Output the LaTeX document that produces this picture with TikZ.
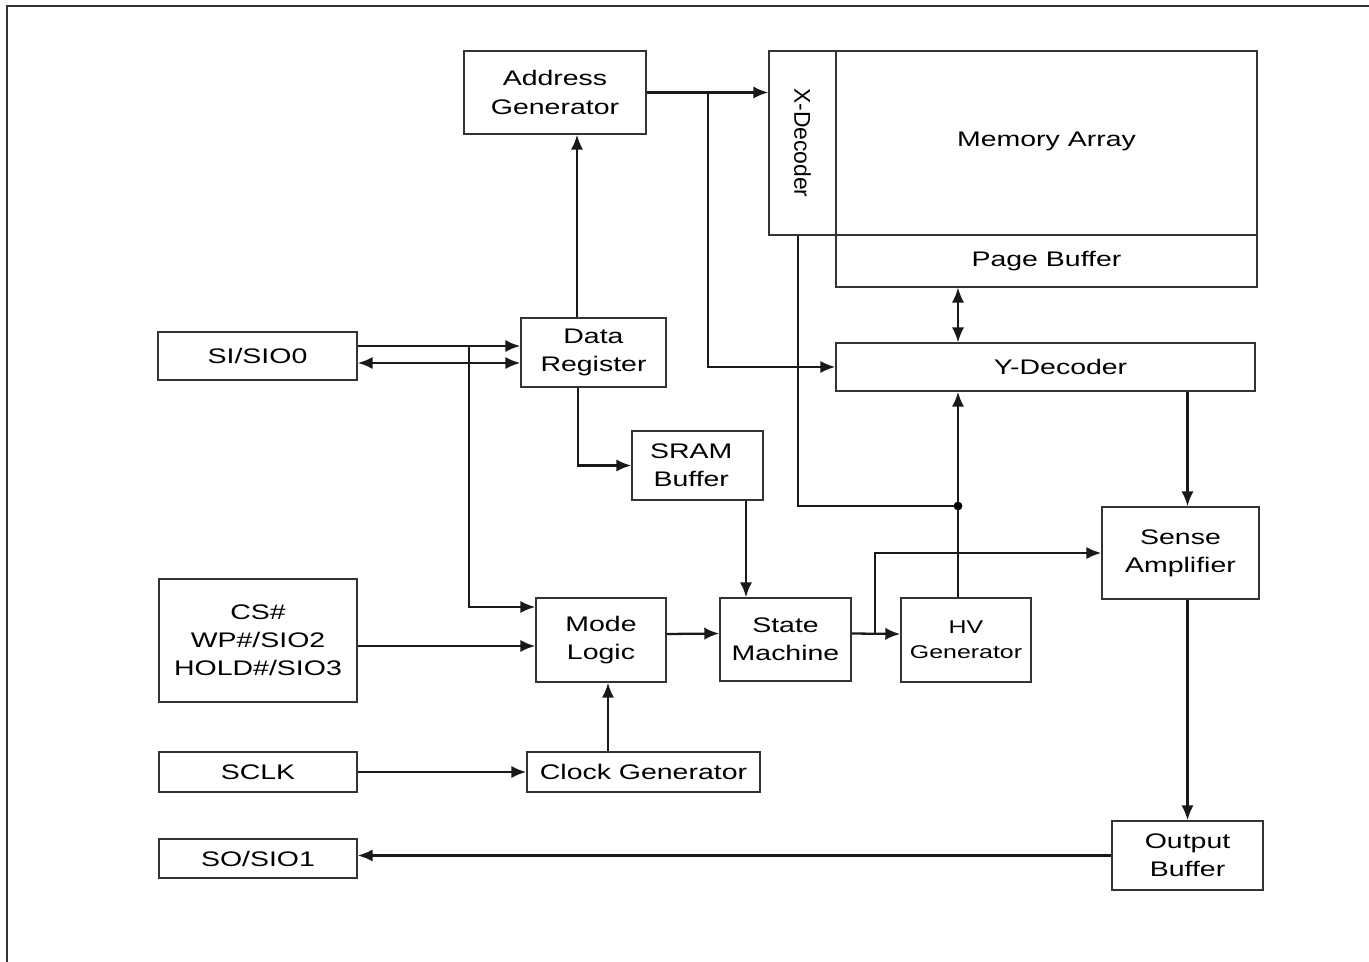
\documentclass[tikz,border=0pt]{standalone}
\usepackage{fontspec}
\setmainfont{Liberation Sans}[FakeStretch=1.35]
\newfontfamily\plainsans{Liberation Sans}
\usetikzlibrary{arrows.meta, calc}

\begin{document}
\begin{tikzpicture}[
      x=0.02cm, y=-0.02cm,
      block/.style={draw=black!80, line width=0.9pt, inner sep=0, align=center,
                    font=\fontsize{12}{16}\selectfont},
      small/.style={font=\fontsize{10.5}{14}\selectfont},
      wire/.style={line width=1.3pt, black!90},
      arr/.style={wire, -{Latex[length=8.5pt, width=7pt]}},
      dbl/.style={wire, {Latex[length=8.5pt, width=7pt]}-{Latex[length=8.5pt, width=7pt]}},
    ]
    \useasboundingbox (0,0) rectangle (1369,962);

    % ---- outer frame ----
    \draw[line width=1.3pt, black!80] (7,962) -- (7,6) -- (1369,6);

    % ---- TOP: address path and memory ----
    \node[block, minimum width=3.64cm, minimum height=1.66cm] (addr) at (555,92.5) {Address\\Generator};
    % rotated: south = left side, east = bottom side
    \node[block, minimum width=3.68cm, minimum height=1.34cm, rotate=-90,
          font=\plainsans\fontsize{13}{16}\selectfont] (xdec) at (802.5,143) {X-Decoder};
    \node[block, minimum width=8.42cm, minimum height=3.68cm] (mem) at (1046.5,143) {\raisebox{0.16cm}{Memory Array}};
    \node[block, minimum width=8.42cm, minimum height=1.04cm] (page) at (1046.5,261) {Page Buffer};
    \node[block, minimum width=8.38cm, minimum height=0.96cm] (ydec) at (1045.5,367) {\hspace*{0.6cm}Y-Decoder};

    % ---- LEFT: pins ----
    \node[block, minimum width=3.98cm, minimum height=0.96cm] (sio0) at (257.5,356) {SI/SIO0};
    \node[block, minimum width=3.96cm, minimum height=2.46cm] (pins) at (258,640.5) {CS\#\\WP\#/SIO2\\HOLD\#/SIO3};
    \node[block, minimum width=3.96cm, minimum height=0.80cm] (sclk) at (258,772) {SCLK};
    \node[block, minimum width=3.96cm, minimum height=0.78cm] (sio1) at (258,858.5) {SO/SIO1};

    % ---- MIDDLE: logic ----
    \node[block, minimum width=2.90cm, minimum height=1.38cm] (dreg) at (593.5,352.5) {Data\\Register};
    \node[block, minimum width=2.62cm, minimum height=1.38cm] (sram) at (697.5,465.5) {SRAM\hspace*{0.25cm}\\Buffer\hspace*{0.25cm}};
    \node[block, minimum width=2.60cm, minimum height=1.68cm] (mode) at (601,640) {Mode\\Logic};
    \node[block, minimum width=2.62cm, minimum height=1.66cm] (state) at (785.5,639.5) {State\\Machine};
    \node[block, small, minimum width=2.60cm, minimum height=1.68cm] (hv) at (966,640) {HV\\Generator};
    \node[block, minimum width=4.66cm, minimum height=0.80cm] (clk) at (643.5,772) {Clock Generator};

    % ---- RIGHT: read path ----
    \node[block, minimum width=3.14cm, minimum height=1.84cm] (sense) at (1180.5,553) {Sense\\Amplifier};
    \node[block, minimum width=3.02cm, minimum height=1.38cm] (outb) at (1187.5,855.5) {Output\\Buffer};

    % Branch points
    \coordinate (abr) at (708,92);
    \coordinate (sbr) at (469,346);
    \coordinate (hbr) at (875,634);
    \coordinate (dot) at (958,506);

    % Address path
    \draw[arr] (addr.east) -- (addr.east -| xdec.south);
    \draw[arr] (abr) |- (ydec.west);
    \draw[arr] ([xshift=-0.33cm]dreg.north) -- ([xshift=-0.33cm]dreg.north |- addr.south);
    \draw[arr] ([xshift=-0.31cm]dreg.south) |- (sram.west);
    \draw[arr] ([xshift=0.97cm]sram.south) -- ([xshift=0.97cm]sram.south |- state.north);

    % Serial inputs
    \draw[arr] ([yshift=0.2cm]sio0.east) -- ([yshift=0.2cm]sio0.east -| dreg.west);
    \draw[dbl] ([yshift=-0.14cm]sio0.east) -- ([yshift=-0.14cm]sio0.east -| dreg.west);
    \draw[arr] (sbr) |- ([yshift=0.66cm]mode.west);
    \draw[arr] ([yshift=-0.11cm]pins.east) -- ([yshift=-0.11cm]pins.east -| mode.west);
    \draw[arr] (sclk.east) -- (clk.west);
    \draw[arr] ([xshift=0.14cm]mode.south |- clk.north) -- ([xshift=0.14cm]mode.south);

    % Control
    \draw[arr] ([yshift=0.12cm]mode.east) -- ([yshift=0.12cm]state.west);
    \draw[arr] ([yshift=0.12cm]state.east) -- ([yshift=0.12cm]hv.west);
    \draw[arr] (hbr) |- (sense.west);
    \draw[arr] ([xshift=-0.16cm]hv.north) -- ([xshift=-0.16cm]hv.north |- ydec.south);
    \draw[wire] ([xshift=-0.09cm]xdec.east) |- (dot);
    \fill (dot) circle[radius=2.5pt];
    \draw[dbl, line width=0.9pt] ([xshift=-0.16cm]hv.north |- page.south) -- ([xshift=-0.16cm]hv.north |- ydec.north);

    % Read path
    \draw[arr] (outb.north |- ydec.south) -- (outb.north |- sense.north);
    \draw[arr] (outb.north |- sense.south) -- (outb.north);
    \draw[arr] (outb.west) -- (outb.west -| sio1.east);

  \end{tikzpicture}
\end{document}
